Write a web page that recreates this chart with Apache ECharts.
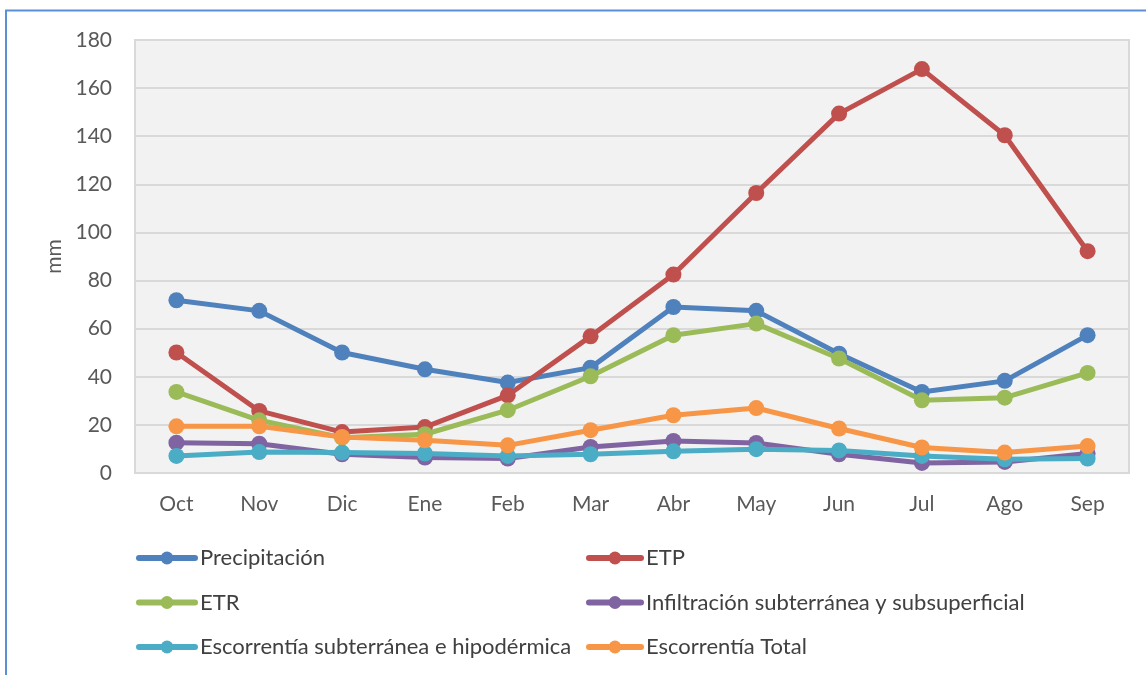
<!DOCTYPE html>
<html><head><meta charset="utf-8">
<script src="https://cdn.jsdelivr.net/npm/echarts@6/dist/echarts.min.js"></script>
<style>html,body{margin:0;padding:0;background:#fff}#c{width:1146px;height:675px}</style>
</head><body><div id="c"></div>
<script>
const categories = ['Oct','Nov','Dic','Ene','Feb','Mar','Abr','May','Jun','Jul','Ago','Sep'];
const precipitacion = [71.8, 67.4, 50.1, 43.1, 37.6, 43.8, 69.0, 67.4, 49.6, 33.7, 38.3, 57.3];
const etp = [50.1, 25.8, 17.0, 19.1, 32.3, 56.8, 82.5, 116.4, 149.4, 167.9, 140.4, 92.2];
const etr = [33.7, 21.9, 14.7, 16.1, 26.1, 40.2, 57.3, 62.1, 47.6, 30.2, 31.3, 41.6];
const infiltracion = [12.6, 12.2, 7.8, 6.4, 6.0, 10.8, 13.3, 12.5, 7.8, 4.2, 4.6, 8.1];
const escSubterranea = [7.1, 8.7, 8.5, 8.1, 7.1, 7.8, 9.0, 9.9, 9.4, 7.1, 5.7, 6.0];
const escTotal = [19.4, 19.4, 15.0, 13.6, 11.5, 17.8, 24.0, 27.0, 18.5, 10.6, 8.5, 11.2];
const names = ['Precipitación','ETP','ETR','Infiltración subterránea y subsuperficial','Escorrentía subterránea e hipodérmica','Escorrentía Total'];
const colors = ['#4f81bd','#c0504d','#9bbb59','#8064a2','#4bacc6','#f79646'];
const datasets = [precipitacion, etp, etr, infiltracion, escSubterranea, escTotal];

const FONT = 'Lato';
const chart = echarts.init(document.getElementById('c'), null, {renderer:'canvas'});
const legendText = {fontFamily: FONT, fontSize: 22, lineHeight: 22, color: '#404040'};
const legendCommon = {orient: 'vertical', top: 542, itemGap: 22.5, itemHeight: 16,
  lineStyle: {width: 6, cap: 'round'}, textStyle: legendText};
chart.setOption({
  animation: false,
  color: colors,
  graphic: [{
    type: 'rect', shape: {x: 6, y: 10.5, width: 1300, height: 800},
    style: {fill: 'none', stroke: '#5b8fd6', lineWidth: 2}, silent: true, z: -10
  }],
  grid: {left: 135, top: 40, right: 17, bottom: 202, show: true,
    backgroundColor: '#f2f2f2', borderColor: '#d9d9d9', borderWidth: 2},
  xAxis: {
    type: 'category', data: categories, boundaryGap: true,
    axisLine: {show: false}, axisTick: {show: false},
    axisLabel: {fontFamily: FONT, fontSize: 21, color: '#595959', margin: 21}
  },
  yAxis: {
    type: 'value', min: 0, max: 180, interval: 20,
    name: 'mm', nameLocation: 'middle', nameGap: 66, nameRotate: 90,
    nameTextStyle: {fontFamily: FONT, fontSize: 21, color: '#595959'},
    axisLine: {show: false}, axisTick: {show: false},
    axisLabel: {fontFamily: FONT, fontSize: 21, color: '#595959', margin: 23},
    splitLine: {lineStyle: {color: '#d9d9d9', width: 2}}
  },
  legend: [
    Object.assign({left: 131, itemWidth: 56, data: [names[0], names[2], names[4]]}, legendCommon),
    Object.assign({left: 581, itemWidth: 52, data: [names[1], names[3], names[5]]}, legendCommon)
  ],
  series: datasets.map((d, i) => ({
    name: names[i], type: 'line', data: d,
    symbol: 'circle', symbolSize: 16,
    lineStyle: {width: 5, color: colors[i]},
    itemStyle: {color: colors[i]},
    z: 2 + i
  }))
});
</script></body></html>
